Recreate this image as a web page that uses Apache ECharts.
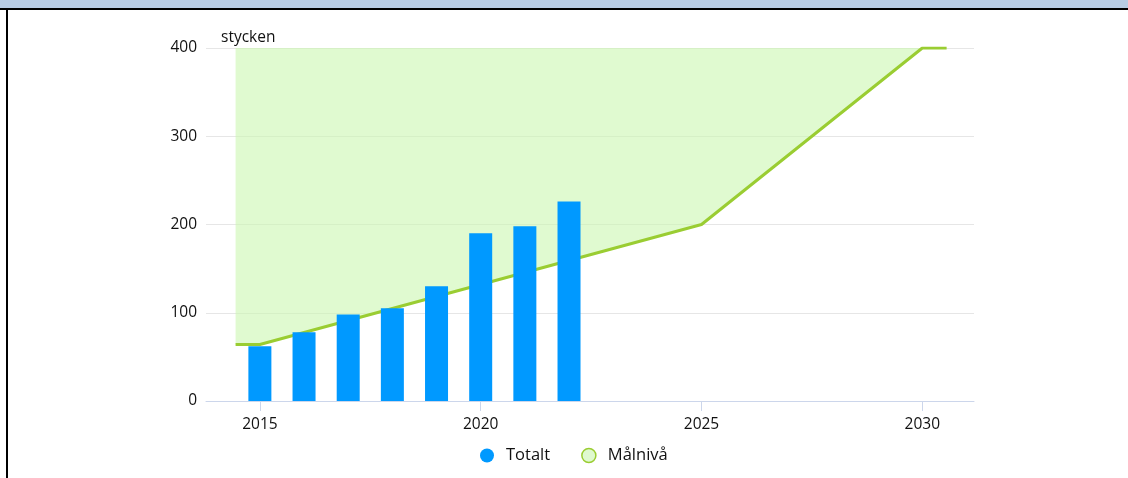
<!DOCTYPE html>
<html>
<head>
<meta charset="utf-8">
<style>
html,body{margin:0;padding:0;background:#fff;}
#chart{width:1128px;height:478px;}
</style>
<script src="https://cdn.jsdelivr.net/npm/echarts@6/dist/echarts.min.js"></script>
</head>
<body>
<div id="chart"></div>
<script>
// Data
const barYears = [2015, 2016, 2017, 2018, 2019, 2020, 2021, 2022];
const totaltValues = [62, 78, 98, 105, 130, 190, 198, 226];
const targetYears = [2014.45, 2015, 2025, 2030, 2030.55];
const targetValues = [64, 64, 200, 400, 400];
const xTickValues = [2015, 2020, 2025, 2030];
const yAxisName = 'stycken';
const seriesNames = ['Totalt', 'Målnivå'];

const FONT = 'Open Sans';
const chart = echarts.init(document.getElementById('chart'), null, {renderer: 'canvas'});
chart.setOption({
  animation: false,
  backgroundColor: '#ffffff',
  textStyle: {fontFamily: FONT},
  graphic: [
    {type: 'rect', left: 0, top: 0, shape: {width: 1128, height: 8}, style: {fill: '#b8cce4'}, z: 100},
    {type: 'rect', left: 0, top: 8, shape: {width: 1128, height: 2}, style: {fill: '#000000'}, z: 100},
    {type: 'rect', left: 6, top: 8, shape: {width: 2, height: 470}, style: {fill: '#000000'}, z: 100}
  ],
  grid: {left: 206, right: 154, top: 48, bottom: 77, containLabel: false},
  legend: {
    left: 475, top: 442,
    icon: 'circle', itemWidth: 14, itemHeight: 14, itemGap: 31,
    textStyle: {fontFamily: FONT, fontSize: 16.5, color: '#111', padding: [0, 0, 0, 7]},
    data: [
      {name: seriesNames[0], itemStyle: {color: '#0099ff'}},
      {name: seriesNames[1], itemStyle: {color: '#dff9cf', borderColor: '#9acd32', borderWidth: 1.5}}
    ]
  },
  xAxis: {
    type: 'value', min: 2013.78, max: 2031.17,
    splitLine: {show: false},
    axisLine: {show: true, lineStyle: {color: '#ccd6eb', width: 1}},
    axisTick: {show: true, length: 10, customValues: xTickValues, lineStyle: {color: '#ccd6eb'}},
    axisLabel: {customValues: xTickValues, margin: 16, fontSize: 15.5, color: '#111', fontFamily: FONT,
      formatter: v => String(v)}
  },
  yAxis: {
    type: 'value', min: 0, max: 400, interval: 100,
    name: yAxisName, nameLocation: 'end', nameGap: 2,
    nameTextStyle: {align: 'left', fontSize: 15.5, color: '#111', fontFamily: FONT, padding: [0, 0, 0, 15]},
    axisLine: {show: false}, axisTick: {show: false},
    splitLine: {lineStyle: {color: '#e6e6e6', width: 1}},
    axisLabel: {margin: 9, fontSize: 15.5, color: '#111', fontFamily: FONT}
  },
  series: [
    {
      name: seriesNames[1], type: 'line', z: 2,
      data: targetYears.map((x, i) => [x, targetValues[i]]),
      symbol: 'none', showSymbol: false,
      lineStyle: {color: '#9acd32', width: 3},
      itemStyle: {color: '#dff9cf', borderColor: '#9acd32'},
      areaStyle: {origin: 'end', color: 'rgb(203,247,177)', opacity: 0.6}
    },
    {
      name: seriesNames[0], type: 'bar', z: 3,
      data: barYears.map((x, i) => [x, totaltValues[i]]),
      barWidth: 23,
      itemStyle: {color: '#0099ff'}
    }
  ]
});
</script>
</body>
</html>
